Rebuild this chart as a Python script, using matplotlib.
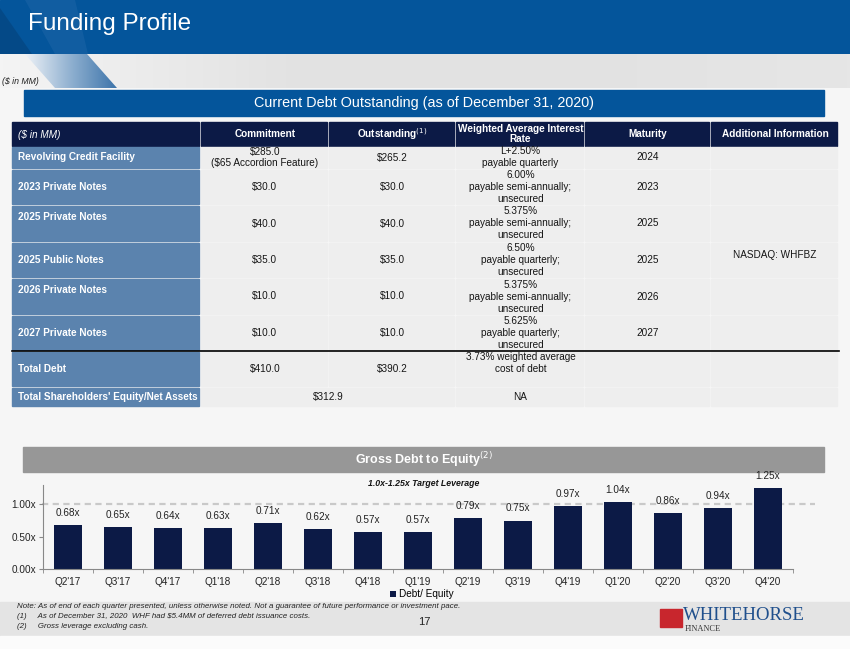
import matplotlib
matplotlib.use("Agg")
import matplotlib.pyplot as plt
from matplotlib.patches import Rectangle, Polygon
from matplotlib.colors import LinearSegmentedColormap
import numpy as np

plt.rcParams["font.family"] = ["Liberation Sans", "DejaVu Sans"]

# ---- data ----
quarters = ["Q2'17", "Q3'17", "Q4'17", "Q1'18", "Q2'18", "Q3'18", "Q4'18", "Q1'19",
            "Q2'19", "Q3'19", "Q4'19", "Q1'20", "Q2'20", "Q3'20", "Q4'20"]
debt_equity = [0.68, 0.65, 0.64, 0.63, 0.71, 0.62, 0.57, 0.57,
               0.79, 0.75, 0.97, 1.04, 0.86, 0.94, 1.25]
target_leverage = 1.0
y_ticks = [0.0, 0.5, 1.0]

col_headers = ["($ in MM)", "Commitment", "Outstanding$^{(1)}$",
               "Weighted Average Interest\nRate", "Maturity", "Additional Information"]
row_labels = ["Revolving Credit Facility", "2023 Private Notes", "2025 Private Notes",
              "2025 Public Notes", "2026 Private Notes", "2027 Private Notes", "Total Debt"]
commitment = ["$285.0\n($65 Accordion Feature)", "$30.0", "$40.0", "$35.0",
              "$10.0", "$10.0", "$410.0"]
outstanding = ["$265.2", "$30.0", "$40.0", "$35.0", "$10.0", "$10.0", "$390.2"]
rates = ["L+2.50%\npayable quarterly",
         "6.00%\npayable semi-annually;\nunsecured",
         "5.375%\npayable semi-annually;\nunsecured",
         "6.50%\npayable quarterly;\nunsecured",
         "5.375%\npayable semi-annually;\nunsecured",
         "5.625%\npayable quarterly;\nunsecured",
         "3.73% weighted average\ncost of debt\n"]
maturity = ["2024", "2023", "2025", "2025", "2026", "2027", ""]
additional = ["", "", "", "NASDAQ: WHFBZ", "", "", ""]
label_top = [False, False, True, False, True, False, False]
equity_label = "Total Shareholders' Equity/Net Assets"
equity_value = "$312.9"
equity_rate = "NA"

footnotes = ["Note: As of end of each quarter presented, unless otherwise noted. Not a guarantee of future performance or investment pace.",
             "(1)     As of December 31, 2020  WHF had $5.4MM of deferred debt issuance costs.",
             "(2)     Gross leverage excluding cash."]

# ---- layout (pixels) ----
W, H = 850, 649
col_x = [12, 201, 329, 456, 585, 711, 839]
row_y = [122, 147, 170, 206, 243, 279, 316, 352, 388, 406]

navy = "#0c1a46"
blue = "#04559b"
steel = "#5b83ae"
cell = "#eeeeee"
txt = "#151515"
bg_col = "#f6f6f6"
fs = 7.2

fig = plt.figure(figsize=(W / 100, H / 100), dpi=100)
fig.patch.set_facecolor(bg_col)
bg = fig.add_axes([0, 0, 1, 1])
bg.set_xlim(0, W)
bg.set_ylim(H, 0)
bg.axis("off")

# header bands
bg.add_patch(Rectangle((0, 0), W, 54, color=blue, zorder=1))
bg.add_patch(Polygon([(25, 0), (75, 0), (88, 54), (55, 54)], color="#3a78b4", alpha=0.25, zorder=1, lw=0))
bg.add_patch(Polygon([(0, 8), (0, 54), (32, 54)], color="#053c70", alpha=0.45, zorder=1, lw=0))
grad = np.linspace(0, 1, 256).reshape(1, -1)
gray_cm = LinearSegmentedColormap.from_list("g", ["#f4f4f4", "#e3e3e3", "#e2e2e2", "#e6e6e6"])
bg.imshow(grad, extent=(0, W, 88, 54), cmap=gray_cm, aspect="auto", zorder=1)
stripe_cm = LinearSegmentedColormap.from_list("s", ["#eef2f7", "#8fb0d0", "#3d74aa"])
stripe = bg.imshow(grad, extent=(25, 117, 88, 54), aspect="auto", zorder=2, cmap=stripe_cm)
stripe.set_clip_path(Polygon([(25, 54), (87, 54), (117, 88), (55, 88)], transform=bg.transData))
bg.text(28, 24, "Funding Profile", color="white", fontsize=17.5, va="center", ha="left", zorder=3)
bg.text(2, 81, "($ in MM)", fontsize=6.3, style="italic", va="center", ha="left", color="#222222", zorder=3)

# title bar for the table
bg.add_patch(Rectangle((24, 90), 800, 26, color=blue, zorder=1))
bg.text(424, 103.5, "Current Debt Outstanding (as of December 31, 2020)", color="white",
        fontsize=10.4, ha="center", va="center")

# table header
for j in range(6):
    bg.add_patch(Rectangle((col_x[j], row_y[0]), col_x[j + 1] - col_x[j] - 2,
                           row_y[1] - row_y[0] - 1, color=navy, zorder=1))
    if j == 0:
        bg.text(col_x[0] + 6, (row_y[0] + row_y[1]) / 2, col_headers[0], color="white",
                fontsize=fs, style="italic", va="center", ha="left")
    else:
        bg.text((col_x[j] + col_x[j + 1]) / 2, (row_y[0] + row_y[1]) / 2 - 0.5, col_headers[j],
                color="white", fontsize=fs, weight="bold", va="center", ha="center",
                linespacing=1.0)

# table body
body_cols = [commitment, outstanding, rates, maturity, additional]
for i in range(len(row_labels)):
    y0, y1 = row_y[i + 1], row_y[i + 2]
    yc = (y0 + y1) / 2
    bg.add_patch(Rectangle((col_x[0], y0), col_x[1] - col_x[0] - 2, y1 - y0 - 2,
                           color=steel, zorder=1))
    ly = y0 + 11 if label_top[i] else yc - 1
    bg.text(col_x[0] + 6, ly, row_labels[i], color="white", fontsize=fs, weight="bold",
            va="center", ha="left")
    for j, vals in enumerate(body_cols):
        bg.add_patch(Rectangle((col_x[j + 1], y0), col_x[j + 2] - col_x[j + 1] - 2,
                               y1 - y0 - 2, color=cell, zorder=1))
        txt_y = yc - 1
        if vals[i] == "NASDAQ: WHFBZ":
            txt_y = y0 + 12
        bg.text((col_x[j + 1] + col_x[j + 2]) / 2, txt_y, vals[i], fontsize=fs,
                color=txt, ha="center", va="center", linespacing=1.25)

bg.plot([col_x[0], col_x[-1]], [row_y[7] - 1, row_y[7] - 1], color="black", lw=1.2, zorder=2)

# equity row (merged commitment/outstanding)
y0, y1 = row_y[8], row_y[9]
yc = (y0 + y1) / 2
bg.add_patch(Rectangle((col_x[0], y0), col_x[1] - col_x[0] - 2, y1 - y0, color=steel, zorder=1))
bg.text(col_x[0] + 6, yc, equity_label, color="white", fontsize=fs, weight="bold",
        va="center", ha="left")
bg.add_patch(Rectangle((col_x[1], y0), col_x[3] - col_x[1] - 2, y1 - y0, color=cell, zorder=1))
bg.text((col_x[1] + col_x[3]) / 2, yc, equity_value, fontsize=fs, color=txt,
        ha="center", va="center")
for j in range(3, 6):
    bg.add_patch(Rectangle((col_x[j], y0), col_x[j + 1] - col_x[j] - 2, y1 - y0, color=cell, zorder=1))
bg.text((col_x[3] + col_x[4]) / 2, yc, equity_rate, fontsize=fs, color=txt,
        ha="center", va="center")

# chart title bar
bg.add_patch(Rectangle((23, 447), 801, 24.5, color="#979797", zorder=1))
bg.text(424, 459.5, "Gross Debt to Equity$^{(2)}$", color="white", fontsize=9,
        weight="bold", ha="center", va="center")
bg.text(424, 483, "1.0x-1.25x Target Leverage", fontsize=6.3, weight="bold",
        style="italic", ha="center", va="center", color=txt)

# footer band
bg.add_patch(Rectangle((0, 602), W, 34, color="#e4e4e4", zorder=0))
bg.add_patch(Rectangle((0, 636), W, 13, color="#fbfbfb", zorder=0))
for k, note in enumerate(footnotes):
    bg.text(17, 607 + k * 10, note, fontsize=5.7, style="italic", color="#222222",
            ha="left", va="center")
bg.text(424, 622, "17", fontsize=8, ha="center", va="center", color="#222222")

# logo
bg.add_patch(Rectangle((660, 609), 22, 18, color="#c8262d", zorder=2))
bg.text(683, 615.5, "WHITEHORSE", family=["Liberation Serif", "DejaVu Serif"], fontsize=13.5,
        color="#1f4f8c", ha="left", va="center")
bg.text(685, 629, "FINANCE", family=["Liberation Serif", "DejaVu Serif"], fontsize=6,
        color="#333333", ha="left", va="center")

# ---- bar chart ----
ax_l, ax_r, ax_b, ax_t = 43, 793, 569, 485
ax = fig.add_axes([ax_l / W, 1 - ax_b / H, (ax_r - ax_l) / W, (ax_b - ax_t) / H])
ax.set_facecolor("none")
x = np.arange(len(quarters))
ax.bar(x, debt_equity, width=0.56, color=navy, label="Debt/ Equity", zorder=2)
for xi, v in zip(x, debt_equity):
    ax.text(xi, v + 0.11, f"{v:.2f}x", ha="center", va="bottom", fontsize=7.2,
            color="#222222", clip_on=False)
ax.plot([-0.52, len(quarters) - 0.06], [target_leverage, target_leverage], ls=(0, (2.8, 2)),
        color="#c9c9c9", lw=1.6, zorder=1, clip_on=False)
ax.set_xlim(-0.5, len(quarters) - 0.5)
ax.set_ylim(0, 1.3)
ax.set_yticks(y_ticks)
ax.set_yticklabels([f"{t:.2f}x" for t in y_ticks])
ax.set_xticks(x)
ax.set_xticklabels(quarters)
ax.set_xticks(np.arange(len(quarters) + 1) - 0.5, minor=True)
ax.tick_params(axis="x", which="major", length=0, labelsize=7.2, pad=6, colors="#222222")
ax.tick_params(axis="x", which="minor", length=3, color="#888888")
ax.tick_params(axis="y", length=3, color="#888888", labelsize=7.2, pad=2, labelcolor="#222222")
for s in ["top", "right"]:
    ax.spines[s].set_visible(False)
ax.spines["left"].set_color("#888888")
ax.spines["bottom"].set_color("#888888")
ax.legend(loc="center", bbox_to_anchor=(0.505, -0.30), frameon=False, fontsize=7.2,
          handlelength=0.6, handleheight=0.6, handletextpad=0.3, borderpad=0)

fig.savefig("out.png", dpi=100, facecolor=fig.get_facecolor())
